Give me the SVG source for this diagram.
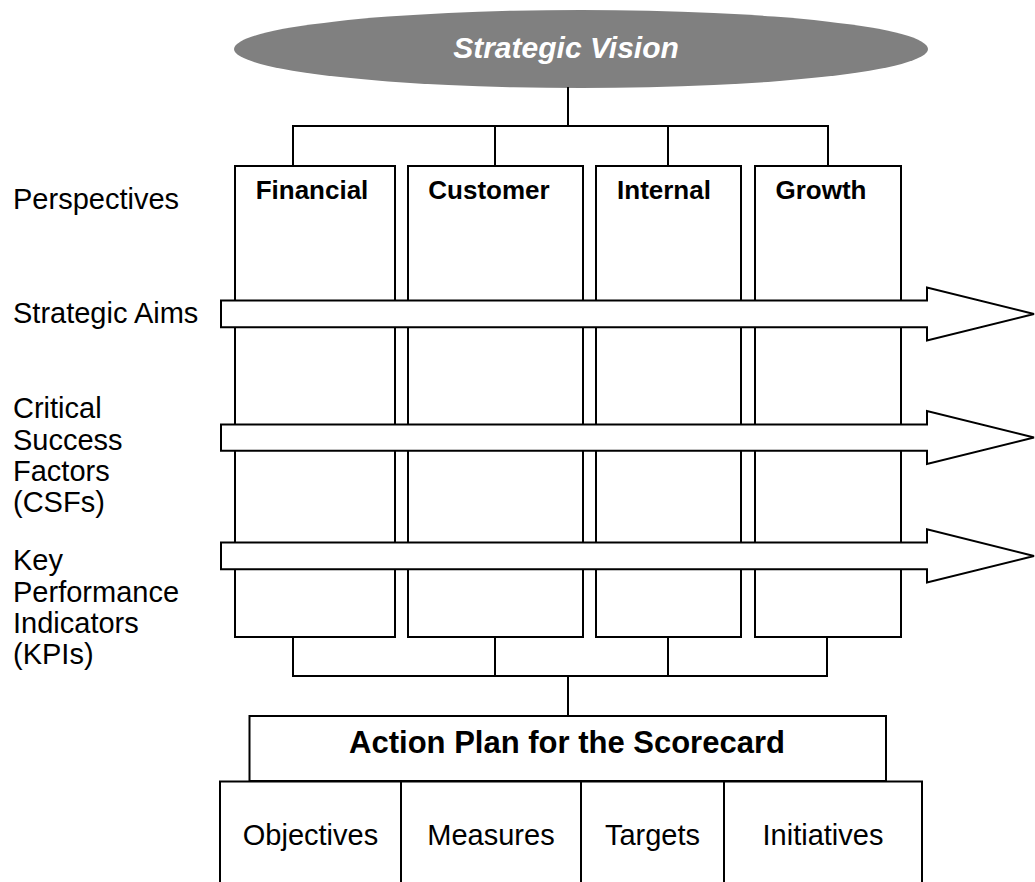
<svg xmlns="http://www.w3.org/2000/svg" width="1035" height="882" viewBox="0 0 1035 882">
<style>
.box{fill:#fff;stroke:#000;stroke-width:2}
.arrow{fill:#fff;stroke:#000;stroke-width:2;stroke-linejoin:miter}
.conn{fill:none;stroke:#000;stroke-width:2}
.lbl{font-family:"Liberation Sans",Arial,sans-serif;font-size:29px;fill:#000}
.hdr{font-family:"Liberation Sans",Arial,sans-serif;font-size:26px;font-weight:bold;fill:#000;text-anchor:middle}
.cell{font-family:"Liberation Sans",Arial,sans-serif;font-size:29px;fill:#000;text-anchor:middle}
</style>
<rect x="0" y="0" width="1035" height="882" fill="#fff"/>
<g id="vision">
<ellipse cx="581" cy="49" rx="347" ry="39" fill="#808080"/>
<text x="566" y="58" font-family="Liberation Sans, Arial, sans-serif" font-size="30" font-weight="bold" font-style="italic" fill="#fff" text-anchor="middle">Strategic Vision</text>
</g>
<g id="labels">
<text class="lbl" x="13" y="209">Perspectives</text>
<text class="lbl" x="13" y="323">Strategic Aims</text>
<text class="lbl" x="13" y="418">Critical</text>
<text class="lbl" x="13" y="450">Success</text>
<text class="lbl" x="13" y="481">Factors</text>
<text class="lbl" x="13" y="512">(CSFs)</text>
<text class="lbl" x="13" y="570">Key</text>
<text class="lbl" x="13" y="602">Performance</text>
<text class="lbl" x="13" y="633">Indicators</text>
<text class="lbl" x="13" y="664">(KPIs)</text>
</g>
<g id="financial">
<rect class="box" x="235" y="166" width="160" height="471"/>
<text class="hdr" x="312" y="199">Financial</text>
</g>
<g id="customer">
<rect class="box" x="408" y="166" width="175" height="471"/>
<text class="hdr" x="489" y="199">Customer</text>
</g>
<g id="internal">
<rect class="box" x="596" y="166" width="145" height="471"/>
<text class="hdr" x="664" y="199">Internal</text>
</g>
<g id="growth">
<rect class="box" x="755" y="166" width="146" height="471"/>
<text class="hdr" x="821" y="199">Growth</text>
</g>
<g id="arrows">
<polygon class="arrow" points="221,300.5 927,300.5 927,287.5 1034,314 927,340.5 927,327.3 221,327.3"/>
<polygon class="arrow" points="221,424.5 927,424.5 927,411 1034,437.5 927,464 927,450.7 221,450.7"/>
<polygon class="arrow" points="221,542.5 927,542.5 927,529.3 1034,556 927,582.5 927,569.3 221,569.3"/>
</g>
<g id="connectors">
<line class="conn" x1="568" y1="87" x2="568" y2="126" stroke-width="2.5"/>
<polyline class="conn" points="293,166 293,126 828,126 828,166"/>
<line class="conn" x1="495" y1="126" x2="495" y2="166"/>
<line class="conn" x1="668" y1="126" x2="668" y2="166"/>
<polyline class="conn" points="293,637 293,676 827,676 827,637"/>
<line class="conn" x1="495" y1="637" x2="495" y2="676"/>
<line class="conn" x1="668" y1="637" x2="668" y2="676"/>
<line class="conn" x1="568" y1="676" x2="568" y2="716" stroke-width="2.5"/>
</g>
<g id="action-plan">
<rect class="box" x="249.5" y="716" width="636.5" height="65"/>
<text x="567" y="753" font-family="Liberation Sans, Arial, sans-serif" font-size="31" font-weight="bold" fill="#000" text-anchor="middle">Action Plan for the Scorecard</text>
</g>
<g id="table">
<rect class="box" x="220" y="781.5" width="702" height="120" stroke-width="2.5"/>
<line class="conn" x1="401" y1="781" x2="401" y2="882"/>
<line class="conn" x1="581" y1="781" x2="581" y2="882"/>
<line class="conn" x1="724" y1="781" x2="724" y2="882"/>
</g>
<g id="objectives"><text class="cell" x="310.5" y="845">Objectives</text></g>
<g id="measures"><text class="cell" x="491" y="845">Measures</text></g>
<g id="targets"><text class="cell" x="652.5" y="845">Targets</text></g>
<g id="initiatives"><text class="cell" x="823" y="845">Initiatives</text></g>
</svg>
